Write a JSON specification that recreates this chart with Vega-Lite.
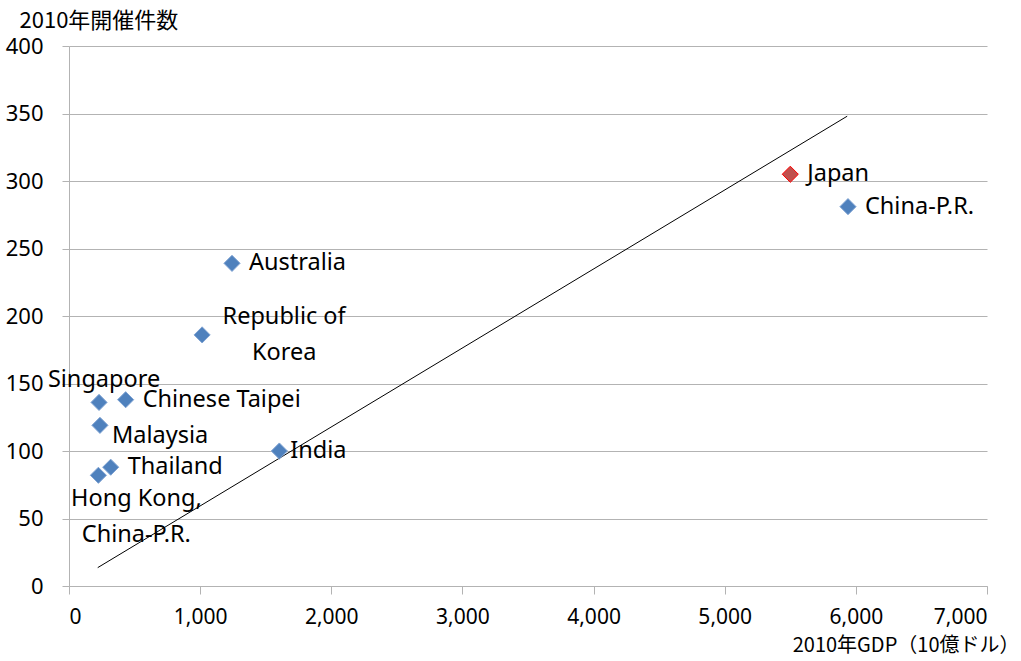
{
  "$schema": "https://vega.github.io/schema/vega-lite/v6.json",
  "width": 918,
  "height": 540,
  "autosize": "none",
  "padding": {"left": 69, "top": 46, "right": 34, "bottom": 75},
  "background": "white",
  "config": {
    "view": {"stroke": null},
    "font": "Noto Sans CJK JP",
    "text": {"font": "Noto Sans", "fontSize": 23.5, "color": "black", "lineBreak": "\n", "lineHeight": 36}
  },
  "datasets": {
    "pts": [
      {"country": "Japan", "gdp": 5500, "count": 305, "group": "Japan"},
      {"country": "China-P.R.", "gdp": 5940, "count": 281, "group": "other"},
      {"country": "Australia", "gdp": 1243, "count": 239, "group": "other"},
      {"country": "Republic of\nKorea", "gdp": 1015, "count": 186, "group": "other"},
      {"country": "Singapore", "gdp": 229, "count": 136, "group": "other"},
      {"country": "Chinese Taipei", "gdp": 432, "count": 138, "group": "other"},
      {"country": "Malaysia", "gdp": 236, "count": 119, "group": "other"},
      {"country": "Thailand", "gdp": 318, "count": 88, "group": "other"},
      {"country": "Hong Kong,\nChina-P.R.", "gdp": 224, "count": 82, "group": "other"},
      {"country": "India", "gdp": 1604, "count": 100, "group": "other"}
    ],
    "trend": [
      {"gdp": 219, "count": 13.6},
      {"gdp": 5934, "count": 348}
    ]
  },
  "encoding": {
    "x": {
      "field": "gdp", "type": "quantitative",
      "scale": {"domain": [0, 7000], "nice": false},
      "axis": {
        "values": [0, 1000, 2000, 3000, 4000, 5000, 6000, 7000],
        "format": ",d", "grid": false,
        "domainColor": "#b3b3b3", "tickColor": "#b3b3b3", "tickSize": 8,
        "labelFont": "Noto Sans", "labelFontSize": 21, "labelColor": "black", "labelPadding": 12,
        "title": "2010年GDP（10億ドル）", "titleFont": "Noto Sans CJK JP", "titleFontSize": 20, "titleFontWeight": "normal", "titleColor": "black",
        "titleAlign": "right", "titleAnchor": "end", "titleBaseline": "middle", "titleX": 950, "titleY": 59
      }
    },
    "y": {
      "field": "count", "type": "quantitative",
      "scale": {"domain": [0, 400], "nice": false},
      "axis": {
        "values": [0, 50, 100, 150, 200, 250, 300, 350, 400],
        "grid": true, "gridColor": "#b3b3b3",
        "domainColor": "#b3b3b3", "tickColor": "#b3b3b3", "tickSize": 7,
        "labelFont": "Noto Sans", "labelFontSize": 22, "labelColor": "black", "labelPadding": 19,
        "title": "2010年開催件数", "titleFont": "Noto Sans CJK JP", "titleFontSize": 22, "titleFontWeight": "normal", "titleColor": "black",
        "titleAngle": 0, "titleAlign": "left", "titleBaseline": "middle", "titleX": -50, "titleY": -26
      }
    }
  },
  "layer": [
    {
      "data": {"name": "trend"},
      "mark": {"type": "line", "color": "black", "strokeWidth": 1},
      "encoding": {}
    },
    {
      "data": {"name": "pts"},
      "mark": {"type": "point", "shape": "diamond", "filled": true, "size": 260, "opacity": 1, "strokeWidth": 1},
      "encoding": {
        "fill": {"field": "group", "type": "nominal", "scale": {"domain": ["other", "Japan"], "range": ["#4f81bd", "#c0504d"]}, "legend": null},
        "stroke": {"field": "group", "type": "nominal", "scale": {"domain": ["other", "Japan"], "range": ["#7fa3d3", "#ff0000"]}, "legend": null}
      }
    },
    {
      "data": {"name": "pts"},
      "transform": [{"filter": {"field": "country", "oneOf": ["Japan", "China-P.R.", "Australia", "Chinese Taipei", "Thailand"]}}],
      "mark": {"type": "text", "align": "left", "baseline": "middle", "dx": 17},
      "encoding": {"text": {"field": "country"}}
    },
    {
      "data": {"name": "pts"},
      "transform": [{"filter": {"field": "country", "equal": "India"}}],
      "mark": {"type": "text", "align": "left", "baseline": "middle", "dx": 11},
      "encoding": {"text": {"field": "country"}}
    },
    {
      "data": {"name": "pts"},
      "transform": [{"filter": {"field": "country", "equal": "Malaysia"}}],
      "mark": {"type": "text", "align": "left", "baseline": "middle", "dx": 12, "dy": 11},
      "encoding": {"text": {"field": "country"}}
    },
    {
      "data": {"name": "pts"},
      "transform": [{"filter": {"field": "country", "equal": "Singapore"}}],
      "mark": {"type": "text", "align": "center", "baseline": "middle", "dx": 5, "dy": -22},
      "encoding": {"text": {"field": "country"}}
    },
    {
      "data": {"name": "pts"},
      "transform": [{"filter": {"field": "country", "equal": "Hong Kong,\nChina-P.R."}}],
      "mark": {"type": "text", "align": "center", "baseline": "middle", "dx": 38, "dy": 24},
      "encoding": {"text": {"field": "country"}}
    },
    {
      "data": {"name": "pts"},
      "transform": [{"filter": {"field": "country", "equal": "Republic of\nKorea"}}],
      "mark": {"type": "text", "align": "center", "baseline": "middle", "dx": 82, "dy": -18},
      "encoding": {"text": {"field": "country"}}
    }
  ]
}
